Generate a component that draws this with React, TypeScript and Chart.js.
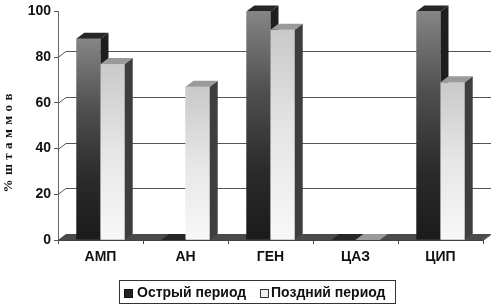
import React, { useEffect, useRef } from "react";
import { Chart, registerables } from "chart.js";

Chart.register(...registerables);

const categories = ["АМП", "АН", "ГЕН", "ЦАЗ", "ЦИП"];
const acuteValues = [88, 0, 100, 0, 100];
const lateValues = [77, 67, 92, 0, 69];
const seriesNames = ["Острый период", "Поздний период"];
const yTickValues = [0, 20, 40, 60, 80, 100];
const yTitle = "% ш т а м м о в";

const DX = 8;
const DY = -6;

function gradientFor(stops: [number, string][]) {
  return (ctx: any) => {
    const chart = ctx.chart;
    const ys = chart.scales && chart.scales.y;
    if (!ys || ctx.type !== "data") return stops[0][1];
    const top = ys.getPixelForValue(ctx.raw);
    const bottom = ys.getPixelForValue(0);
    if (!isFinite(top) || !isFinite(bottom) || Math.abs(bottom - top) < 1) return stops[0][1];
    const g = chart.ctx.createLinearGradient(0, top, 0, bottom);
    stops.forEach(([o, c]) => g.addColorStop(o, c));
    return g;
  };
}

const darkStops: [number, string][] = [
  [0, "#858585"],
  [0.35, "#4f4f4f"],
  [0.7, "#2a2a2a"],
  [1, "#1b1b1b"],
];
const lightStops: [number, string][] = [
  [0, "#c9c9c9"],
  [0.5, "#e6e6e6"],
  [1, "#f8f8f8"],
];

const sideColors = ["#1e1e1e", "#3e3e3e"];
const topColors = ["#262626", "#9a9a9a"];

function poly(ctx: CanvasRenderingContext2D, pts: number[][], fill: string) {
  ctx.beginPath();
  ctx.moveTo(pts[0][0], pts[0][1]);
  for (let i = 1; i < pts.length; i++) ctx.lineTo(pts[i][0], pts[i][1]);
  ctx.closePath();
  ctx.fillStyle = fill;
  ctx.fill();
}

function drawSideTop(ctx: CanvasRenderingContext2D, el: any, di: number) {
  const { x, y, base, width } = el.getProps(["x", "y", "base", "width"], true);
  const l = x - width / 2;
  const r = x + width / 2;
  if (base - y > 0.5) {
    poly(ctx, [[r, y], [r + DX, y + DY], [r + DX, base + DY], [r, base]], sideColors[di]);
  }
  poly(ctx, [[l, y], [l + DX, y + DY], [r + DX, y + DY], [r, y]], topColors[di]);
}

const threeDPlugin = {
  id: "threeD",
  beforeDatasetsDraw(chart: any) {
    const { ctx, chartArea } = chart;
    const ys = chart.scales.y;
    const L = chartArea.left;
    const R = chartArea.right;
    const B = chartArea.bottom;
    ctx.save();
    ctx.strokeStyle = "#555";
    ctx.lineWidth = 1;
    yTickValues.forEach((v) => {
      if (v === 0 || v === 100) return;
      const py = Math.round(ys.getPixelForValue(v)) + 0.5;
      ctx.beginPath();
      ctx.moveTo(L, py);
      ctx.lineTo(L + DX, py + DY);
      ctx.lineTo(R + DX, py + DY);
      ctx.stroke();
    });
    // floor
    poly(ctx, [[L, B], [L + DX, B + DY], [R + DX, B + DY], [R, B]], "#4a4a4a");
    ctx.strokeStyle = "#333";
    ctx.beginPath();
    ctx.moveTo(R, B + 0.5);
    ctx.lineTo(R + DX, B + DY + 0.5);
    ctx.stroke();
    ctx.restore();
  },
  afterDatasetsDraw(chart: any) {
    const { ctx, chartArea } = chart;
    const m0 = chart.getDatasetMeta(0);
    const m1 = chart.getDatasetMeta(1);
    ctx.save();
    m0.data.forEach((el: any) => drawSideTop(ctx, el, 0));
    m1.data.forEach((el: any) => {
      el.draw(ctx, chartArea);
      drawSideTop(ctx, el, 1);
    });
    ctx.restore();
  },
  afterDraw(chart: any) {
    const { ctx } = chart;
    ctx.save();
    // y title
    ctx.font = "bold 13px 'Liberation Serif', serif";
    ctx.fillStyle = "#111";
    ctx.textAlign = "center";
    ctx.textBaseline = "middle";
    ctx.translate(9, 143);
    ctx.rotate(-Math.PI / 2);
    const w = ctx.measureText(yTitle).width;
    const n = yTitle.length;
    const sp = Math.max(0, (99 - w) / (n - 1));
    (ctx as any).letterSpacing = sp.toFixed(2) + "px";
    ctx.fillText(yTitle, sp / 2, 0);
    ctx.restore();

    // legend
    ctx.save();
    ctx.strokeStyle = "#333";
    ctx.lineWidth = 1;
    ctx.strokeRect(119.5, 280.5, 276, 23);
    ctx.font = "bold 14px Arial, 'Liberation Sans', sans-serif";
    ctx.textBaseline = "middle";
    ctx.textAlign = "left";
    ctx.fillStyle = "#222";
    ctx.fillRect(124, 289, 9, 9);
    ctx.strokeStyle = "#111";
    ctx.strokeRect(124.5, 289.5, 8, 8);
    ctx.fillStyle = "#111";
    ctx.fillText(seriesNames[0], 137, 293);
    ctx.fillStyle = "#eeeeee";
    ctx.fillRect(260, 289, 9, 9);
    ctx.strokeStyle = "#333";
    ctx.strokeRect(260.5, 289.5, 8, 8);
    ctx.fillStyle = "#111";
    ctx.fillText(seriesNames[1], 271, 293);
    ctx.restore();
  },
};

export default function App() {
  const ref = useRef<HTMLCanvasElement | null>(null);
  useEffect(() => {
    document.body.style.margin = "0";
    const canvas = ref.current;
    if (!canvas) return;
    const chart = new Chart(canvas, {
      type: "bar",
      data: {
        labels: categories,
        datasets: [
          {
            label: seriesNames[0],
            data: acuteValues,
            backgroundColor: gradientFor(darkStops) as any,
            borderWidth: 0,
            categoryPercentage: 0.57,
            barPercentage: 1,
          },
          {
            label: seriesNames[1],
            data: lateValues,
            backgroundColor: gradientFor(lightStops) as any,
            borderWidth: 0,
            categoryPercentage: 0.57,
            barPercentage: 1,
          },
        ],
      },
      options: {
        responsive: false,
        animation: false,
        events: [],
        layout: { padding: { top: 9, left: 0, right: 11, bottom: 0 } },
        plugins: {
          legend: { display: false },
          tooltip: { enabled: false },
          title: { display: false },
        },
        scales: {
          x: {
            offset: true,
            grid: {
              display: true,
              drawOnChartArea: false,
              drawTicks: true,
              tickLength: 4,
              offset: true,
              color: "#444",
            },
            border: { display: true, color: "#444" },
            ticks: {
              color: "#111",
              padding: 5,
              font: { family: "Arial, 'Liberation Sans', sans-serif", size: 14, weight: "bold" },
            },
            afterFit: (s: any) => {
              s.height = 65;
            },
          },
          y: {
            min: 0,
            max: 100,
            ticks: {
              stepSize: 20,
              color: "#111",
              padding: 3,
              font: { family: "Arial, 'Liberation Sans', sans-serif", size: 14, weight: "bold" },
            },
            grid: {
              display: true,
              drawOnChartArea: false,
              drawTicks: true,
              tickLength: 4,
              color: "#555",
            },
            border: { display: true, color: "#666" },
            afterFit: (s: any) => {
              s.width = 58;
            },
          },
        },
      },
      plugins: [threeDPlugin],
    });
    return () => chart.destroy();
  }, []);
  return (
    <div style={{ width: 494, height: 305 }}>
      <canvas ref={ref} width={494} height={305} style={{ display: "block" }} />
    </div>
  );
}
